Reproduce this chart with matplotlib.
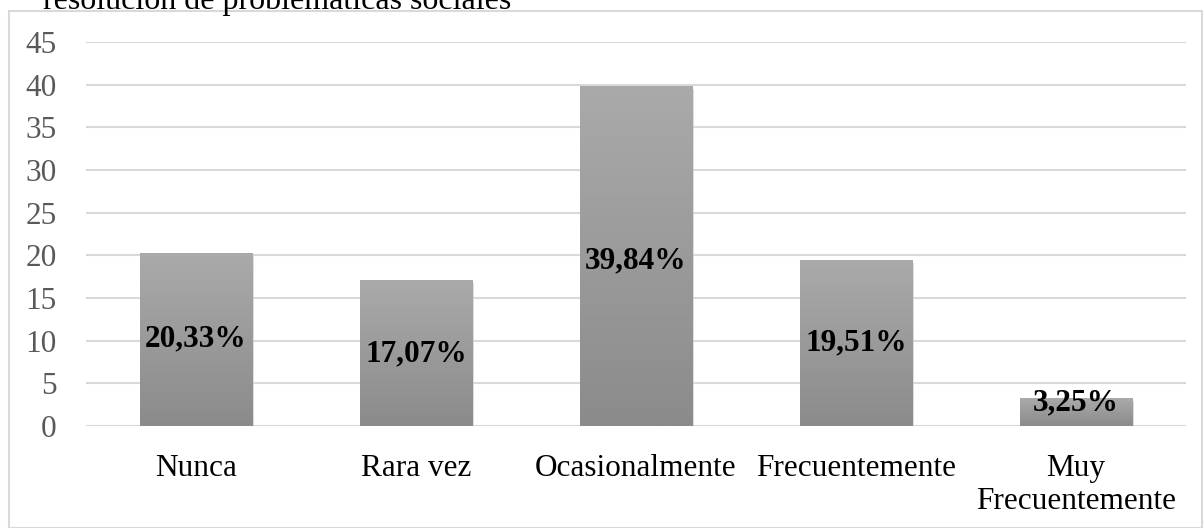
import matplotlib
matplotlib.use("Agg")
import matplotlib.pyplot as plt
import numpy as np
from matplotlib.patches import Rectangle

categories = ["Nunca", "Rara vez", "Ocasionalmente", "Frecuentemente", "Muy\nFrecuentemente"]
values = [20.33, 17.07, 39.84, 19.51, 3.25]
labels = ["20,33%", "17,07%", "39,84%", "19,51%", "3,25%"]
label_y = [10.17, 8.5, 19.3, 9.7, 2.75]
yticks = [0, 5, 10, 15, 20, 25, 30, 35, 40, 45]
title = "resolución de problemáticas sociales"

plt.rcParams['font.family'] = ['Liberation Serif', 'DejaVu Serif']

W, H = 1203, 528
fig = plt.figure(figsize=(W / 100, H / 100), dpi=100)

# chart frame
fig.patches.append(Rectangle((9 / W, 0), 1 - 9 / W - 1 / W, 1 - 11 / H,
                             transform=fig.transFigure, fill=False,
                             edgecolor="#d9d9d9", linewidth=1.5))
fig.text(43 / W, 1 - 9 / H, title, fontsize=23, va="baseline", ha="left", color="black")

ax = fig.add_axes([86 / W, 1 - 426 / H, 1100 / W, 384 / H])
x = np.arange(len(categories))
ax.set_xlim(-0.5, len(categories) - 0.5)
ax.set_ylim(0, 45)

for yt in yticks:
    ax.axhline(yt, color="#d9d9d9", linewidth=1.5, zorder=0)

bars = ax.bar(x, values, width=0.51, color="none", edgecolor="none", zorder=2)
grad = np.linspace(0, 1, 256).reshape(-1, 1)
cmap = matplotlib.colors.LinearSegmentedColormap.from_list("g", ["#8b8b8b", "#aaaaaa"])
for b in bars:
    x0, w, h = b.get_x(), b.get_width(), b.get_height()
    ax.add_patch(Rectangle((x0 + 0.01, -0.35), w, h, facecolor="#cfcfcf", edgecolor="none", zorder=1.5, alpha=0.7))
    im = ax.imshow(grad, extent=(x0, x0 + w, 0, h), origin="lower", cmap=cmap,
                   aspect="auto", zorder=2)
    im.set_clip_path(b)

for xi, ly, t in zip(x, label_y, labels):
    ax.text(xi, ly, t, ha="center", va="center", fontsize=22.5, fontweight="bold", color="black", zorder=3)

ax.set_xticks(x)
ax.set_xticklabels(categories, fontsize=22.5, color="black", linespacing=1.2)
ax.set_yticks(yticks)
ax.set_yticklabels([str(v) for v in yticks], fontsize=22.5, color="#595959")
ax.tick_params(axis="both", length=0)
ax.tick_params(axis="x", pad=20)
ax.tick_params(axis="y", pad=21)
for s in ax.spines.values():
    s.set_visible(False)
ax.set_xlim(-0.5, len(categories) - 0.5)
ax.set_ylim(0, 45)

fig.savefig("out.png", dpi=100)
